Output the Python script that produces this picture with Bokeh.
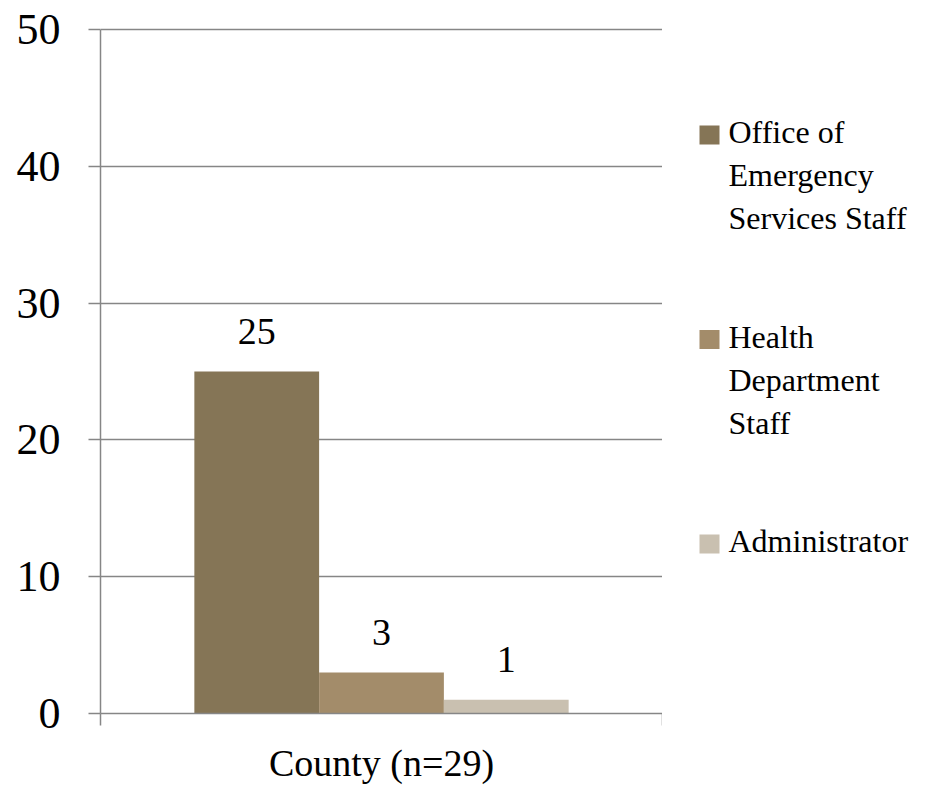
from bokeh.plotting import figure
from bokeh.layouts import row
from bokeh.models import (ColumnDataSource, FactorRange, Range1d, LinearAxis,
                          CategoricalAxis, FixedTicker)
from bokeh.transform import dodge
from bokeh.core.properties import value
from bokeh.embed import file_html
from bokeh.resources import INLINE

categories = ["County (n=29)"]
series_label_lines = [["Office of", "Emergency", "Services Staff"],
                      ["Health", "Department", "Staff"],
                      ["Administrator"]]
office_staff = [25]
health_staff = [3]
administrator = [1]
y_ticks = [0, 10, 20, 30, 40, 50]
colors = ["#857556", "#a38c6a", "#c9c0b0"]

FONT = "Liberation Serif"
GRAY = "#868686"

source = ColumnDataSource(dict(
    cat=categories,
    office=office_staff, health=health_staff, admin=administrator,
    office_lbl=[str(v) for v in office_staff],
    health_lbl=[str(v) for v in health_staff],
    admin_lbl=[str(v) for v in administrator],
))

FRAME_TOP, FRAME_BOTTOM = 27, 713
TOP_PAD_PX = 2  # keep the top grid line (50) inside the frame, not clipped
frame_h = FRAME_BOTTOM - FRAME_TOP
y_end = y_ticks[-1] * frame_h / (frame_h - TOP_PAD_PX)

p = figure(x_range=FactorRange(factors=categories), y_range=Range1d(0, y_end),
           width=662, height=793, output_backend="svg", toolbar_location=None,
           x_axis_location=None,
           min_border_left=100, min_border_right=0, min_border_top=FRAME_TOP, min_border_bottom=80)
p.outline_line_color = None
p.xgrid.grid_line_color = None
p.ygrid.grid_line_color = GRAY
p.ygrid.grid_line_width = 1.5

# y axis
p.yaxis.ticker = FixedTicker(ticks=y_ticks)
p.yaxis.bounds = (0, y_ticks[-1])
p.yaxis.axis_line_color = GRAY
p.yaxis.axis_line_width = 1.5
p.yaxis.major_tick_line_color = GRAY
p.yaxis.major_tick_line_width = 1.5
p.yaxis.major_tick_out = 12
p.yaxis.major_tick_in = 0
p.yaxis.minor_tick_line_color = None
p.yaxis.major_label_text_font = FONT
p.yaxis.major_label_text_font_size = "44px"
p.yaxis.major_label_text_color = "black"
p.yaxis.major_label_standoff = 28

# x axis: category boundary ticks (synthetic coords 0 and 1) + category label
tick_axis = LinearAxis(ticker=FixedTicker(ticks=[0, 1]),
                       major_label_overrides={0: "", 1: ""},
                       axis_line_color=GRAY,
                       axis_line_width=1.5, major_tick_line_color=GRAY,
                       major_tick_line_width=1.5, major_tick_out=12, major_tick_in=0,
                       minor_tick_line_color=None, major_label_standoff=0)
p.add_layout(tick_axis, "below")
cat_axis = CategoricalAxis(axis_line_color=None, major_tick_line_color=None,
                           major_label_text_font=FONT, major_label_text_font_size="38px",
                           major_label_text_color="black", major_label_standoff=10)
p.add_layout(cat_axis, "below")

bw = 0.222
r1 = p.vbar(x=dodge("cat", -bw, range=p.x_range), top="office", width=bw, source=source,
            fill_color=colors[0], line_color=None)
r2 = p.vbar(x=dodge("cat", 0, range=p.x_range), top="health", width=bw, source=source,
            fill_color=colors[1], line_color=None)
r3 = p.vbar(x=dodge("cat", bw, range=p.x_range), top="admin", width=bw, source=source,
            fill_color=colors[2], line_color=None)

for off, col, lbl in [(-bw, "office", "office_lbl"), (0, "health", "health_lbl"), (bw, "admin", "admin_lbl")]:
    p.text(x=dodge("cat", off, range=p.x_range), y=col, text=lbl, source=source,
           text_font=value(FONT), text_font_size="38px", text_color="black",
           text_align="center", text_baseline="alphabetic", y_offset=-40)

# legend panel: its frame is aligned with the main frame (rows align frames),
# so use page-pixel coordinates spanning that frame
LW = 269
lg = figure(width=LW, height=793, x_range=Range1d(0, LW),
            y_range=Range1d(FRAME_BOTTOM, FRAME_TOP),
            output_backend="svg", toolbar_location=None, min_border=0,
            min_border_top=FRAME_TOP, min_border_bottom=80,
            x_axis_location=None, y_axis_location=None)
lg.outline_line_color = None
lg.grid.grid_line_color = None

line_pitch = 43
group_gap = 75.5
first_line = 131.5
sw_x, sw_y, sw_w, sw_h = 47, 3, 20, 19
txt_x = 66

sw = dict(x=[], y=[], color=[])
tx = dict(x=[], y=[], text=[])
cur = first_line
for color, lines in zip(colors, series_label_lines):
    sw["x"].append(sw_x)
    sw["y"].append(cur + sw_y)
    sw["color"].append(color)
    for i, t in enumerate(lines):
        tx["x"].append(txt_x)
        tx["y"].append(cur + i * line_pitch)
        tx["text"].append(t)
    cur += len(lines) * line_pitch + group_gap

lg.rect(x="x", y="y", width=sw_w, height=sw_h, fill_color="color", line_color=None,
        source=ColumnDataSource(sw))
lg.text(x="x", y="y", text="text", source=ColumnDataSource(tx),
        text_font=value(FONT), text_font_size="32px", text_color="black",
        text_align="left", text_baseline="middle")

layout = row(p, lg, spacing=0)
open("out.html", "w").write(file_html(layout, INLINE))
